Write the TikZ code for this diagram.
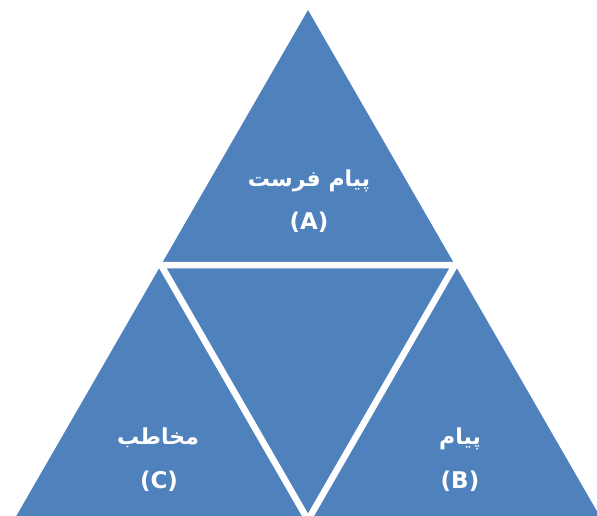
\documentclass[tikz,border=0pt]{standalone}
\usepackage{fontspec}
\usetikzlibrary{calc}
\TeXXeTstate=1
\newfontfamily\arabicfont[Script=Arabic]{DejaVu Sans}
\newfontfamily\latinlabel{DejaVu Sans}
\definecolor{triblue}{HTML}{4F81BD}
\begin{document}
\begin{tikzpicture}[x=1pt,y=-1pt,
  gap/.style={draw=white,line width=6.5pt,line join=miter},
  ptext/.style={text=white,font=\arabicfont\bfseries\fontsize{22}{26}\selectfont,anchor=base,inner sep=0pt},
  ltext/.style={text=white,font=\latinlabel\bfseries\fontsize{23}{27}\selectfont,anchor=base,inner sep=0pt}]
\useasboundingbox (0,0) rectangle (597,515);
\coordinate (apex) at (308,10);
\coordinate (bl) at (14,520);
\coordinate (br) at (602,520);
\coordinate (ml) at (161,265);
\coordinate (mr) at (455,265);
\coordinate (mb) at (308,520);
\fill[triblue] (apex) -- (br) -- (bl) -- cycle;
\draw[gap] (ml) -- (mr) -- (mb) -- cycle;
\draw[gap] ($(ml)!-0.1!(mr)$) -- ($(mr)!-0.1!(ml)$);
\node[ptext] (atitle) at (309,186) {\beginR پیام فرست\endR};
\node[ltext] (aletter) at (309,229) {(A)};
\node[ptext] (ctitle) at (158,444) {\beginR مخاطب\endR};
\node[ltext] (cletter) at (159,488) {(C)};
\node[ptext] (btitle) at (460,444) {\beginR پیام\endR};
\node[ltext] (bletter) at (460,488) {(B)};
\end{tikzpicture}
\end{document}
